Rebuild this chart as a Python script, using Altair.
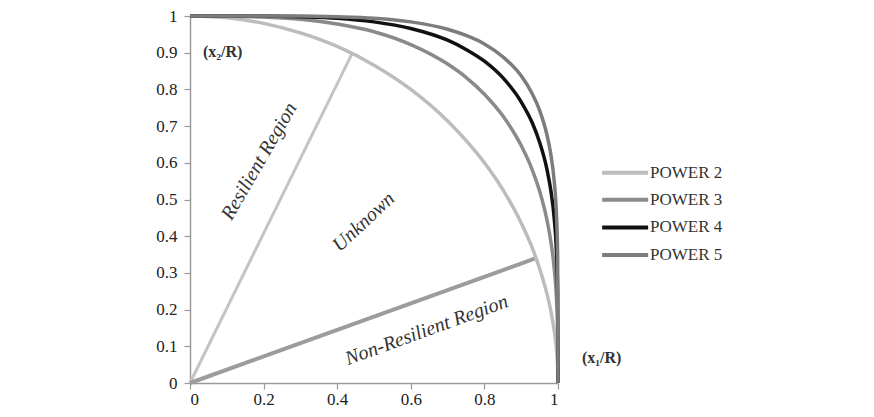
import altair as alt
import pandas as pd

# ---- data ----
xs = [0, 0.1, 0.2, 0.3, 0.4, 0.5, 0.6, 0.7, 0.75, 0.8, 0.85, 0.9, 0.93, 0.95, 0.97, 0.98, 0.99, 0.995, 0.999, 1.0]
power2 = [1, 0.995, 0.980, 0.954, 0.917, 0.866, 0.800, 0.714, 0.661, 0.600, 0.527, 0.436, 0.368, 0.312, 0.243, 0.199, 0.141, 0.100, 0.045, 0]
power3 = [1, 1.000, 0.997, 0.991, 0.978, 0.957, 0.922, 0.869, 0.833, 0.787, 0.728, 0.647, 0.581, 0.523, 0.444, 0.389, 0.310, 0.246, 0.144, 0]
power4 = [1, 1.000, 1.000, 0.998, 0.994, 0.984, 0.966, 0.934, 0.909, 0.877, 0.832, 0.766, 0.709, 0.656, 0.582, 0.528, 0.446, 0.375, 0.251, 0]
power5 = [1, 1.000, 1.000, 1.000, 0.998, 0.994, 0.984, 0.964, 0.947, 0.924, 0.889, 0.837, 0.788, 0.743, 0.676, 0.626, 0.547, 0.477, 0.346, 0]

series_names = ["POWER 2", "POWER 3", "POWER 4", "POWER 5"]
series_colors = ["#bcbcbc", "#8a8a8a", "#111111", "#7c7c7c"]

# region boundary lines (from origin to the circle)
resilient_line = {"x": [0], "y": [0], "x2": [0.44], "y2": [0.897]}
nonres_line = {"x": [0], "y": [0], "x2": [0.94], "y2": [0.34]}

# region labels
region_text = ["Resilient Region", "Unknown", "Non-Resilient Region"]
region_x = [0.188, 0.472, 0.643]
region_y = [0.604, 0.439, 0.144]
region_angle = [300, 317, 340]

# axis titles
axis_text = ["(x\u2082/R)", "(x\u2081/R)"]
axis_tx = [0.035, 1.065]
axis_ty = [0.902, 0.068]

# legend layout (in data units, placed right of plot)
legend_x1 = 1.12
legend_x2 = 1.245
legend_tx = 1.25
legend_y = [0.573, 0.499, 0.424, 0.349]

ticks = [0, 0.2, 0.4, 0.6, 0.8, 1.0]
yticks = [0, 0.1, 0.2, 0.3, 0.4, 0.5, 0.6, 0.7, 0.8, 0.9, 1.0]

# ---- build tables ----
rows = []
for name, ys in zip(series_names, [power2, power3, power4, power5]):
    for i, (x, y) in enumerate(zip(xs, ys)):
        rows.append({"series": name, "x": x, "y": y, "order": i})
curves = pd.DataFrame(rows)

FONT = "Liberation Serif"

xscale = alt.Scale(domain=[0, 1], nice=False)
yscale = alt.Scale(domain=[0, 1], nice=False)
cscale = alt.Scale(domain=series_names, range=series_colors)

axis_common = dict(
    grid=False,
    domainColor="#9a9a9a",
    domainWidth=1.5,
    tickColor="#9a9a9a",
    tickWidth=1.2,
    tickSize=6,
    labelFont=FONT,
    labelFontSize=17,
    labelColor="#222222",
    labelOverlap=False,
    format=".1~f",
    title=None,
)
xaxis = alt.Axis(values=ticks, labelPadding=2, **axis_common)
yaxis = alt.Axis(values=yticks, labelPadding=7, **axis_common)


def X(field):
    return alt.X(field, scale=xscale, axis=xaxis)


def Y(field):
    return alt.Y(field, scale=yscale, axis=yaxis)


res = alt.Chart(pd.DataFrame(resilient_line)).mark_rule(color="#c4c4c4", strokeWidth=3).encode(
    x=X("x:Q"), y=Y("y:Q"), x2="x2:Q", y2="y2:Q",
)
nonres = alt.Chart(pd.DataFrame(nonres_line)).mark_rule(color="#9c9c9c", strokeWidth=4).encode(
    x=X("x:Q"), y=Y("y:Q"), x2="x2:Q", y2="y2:Q",
)

lines = alt.Chart(curves).mark_line(strokeWidth=3.5, interpolate="monotone").encode(
    x=X("x:Q"),
    y=Y("y:Q"),
    color=alt.Color("series:N", scale=cscale, legend=None),
    order="order:Q",
    detail="series:N",
)

region_df = pd.DataFrame({"t": region_text, "x": region_x, "y": region_y, "a": region_angle})
region_layers = []
for i in range(len(region_text)):
    sub = region_df.iloc[[i]]
    region_layers.append(
        alt.Chart(sub).mark_text(
            font=FONT, fontSize=20, fontStyle="italic", color="#333333",
            angle=int(region_angle[i]), align="center", baseline="middle",
        ).encode(x=X("x:Q"), y=Y("y:Q"), text="t:N")
    )

axis_df = pd.DataFrame({"t": axis_text, "x": axis_tx, "y": axis_ty})
axis_titles = alt.Chart(axis_df).mark_text(
    font=FONT, fontSize=16, fontWeight="bold", color="#333333", align="left", baseline="middle",
).encode(x=X("x:Q"), y=Y("y:Q"), text="t:N")

leg_df = pd.DataFrame({"series": series_names, "x1": [legend_x1] * 4, "x2": [legend_x2] * 4,
                       "tx": [legend_tx] * 4, "y": legend_y})
leg_lines = alt.Chart(leg_df).mark_rule(strokeWidth=4).encode(
    x=X("x1:Q"), x2="x2:Q", y=Y("y:Q"),
    color=alt.Color("series:N", scale=cscale, legend=None),
)
leg_text = alt.Chart(leg_df).mark_text(
    font=FONT, fontSize=17, color="#333333", align="left", baseline="middle",
).encode(x=X("tx:Q"), y=Y("y:Q"), text="series:N")

chart = alt.layer(
    res, nonres, lines, *region_layers, axis_titles, leg_lines, leg_text
).properties(
    width=368, height=367,
    autosize=alt.AutoSizeParams(type="none"),
    padding={"left": 182, "top": 8, "right": 308, "bottom": 26},
    background="white",
).configure_view(stroke=None)

chart.save("out.html", embed_options={"renderer": "svg", "actions": False})
